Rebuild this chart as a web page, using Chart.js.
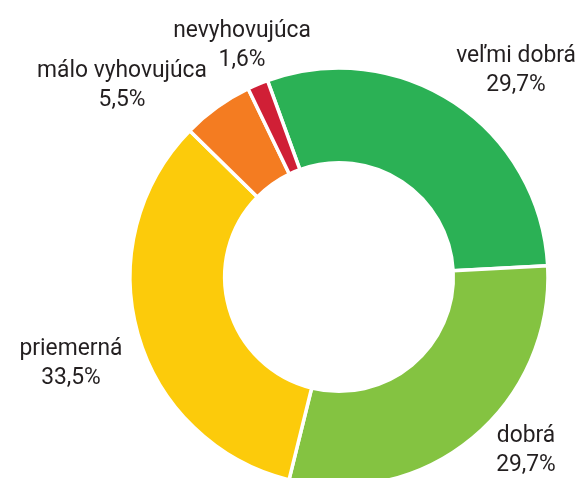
<!DOCTYPE html>
<html>
<head>
<meta charset="utf-8">
<script src="https://cdn.jsdelivr.net/npm/chart.js@4/dist/chart.umd.min.js"></script>
<style>
  html, body { margin: 0; padding: 0; background: #fff; overflow: hidden; }
  #wrap { width: 582px; height: 478px; overflow: hidden; }
  canvas { display: block; }
</style>
</head>
<body>
<div id="wrap"><canvas id="chart" width="582" height="554"></canvas></div>
<script>
'use strict';
// ── Data ──────────────────────────────────────────────────────────────────
const LABELS  = ['veľmi dobrá', 'dobrá', 'priemerná', 'málo vyhovujúca', 'nevyhovujúca'];
const VALUES  = [29.7, 29.7, 33.5, 5.5, 1.6];
const COLORS  = ['#2bb155', '#84c341', '#fccb0b', '#f47c21', '#d01f36'];

// label anchor relative to the doughnut centre: [x of text centre, baseline of first line]
const LABEL_OFFSETS = [[177, -215], [187, 165], [-268, 78], [-217, -200], [-97, -240]];
const LINE_GAP = 29;
const SQUEEZE = 0.95;   // narrow the glyphs a little, the original uses a condensed face

const fmtPct = v => v.toFixed(1).replace('.', ',') + '%';

// ── Outside labels ────────────────────────────────────────────────────────
const outsideLabels = {
    id: 'outsideLabels',
    afterDatasetsDraw(chart) {
        const ctx = chart.ctx;
        const meta = chart.getDatasetMeta(0);
        ctx.save();
        ctx.font = "24px Roboto, 'Noto Sans', sans-serif";
        ctx.fillStyle = '#231f20';
        ctx.textAlign = 'center';
        ctx.textBaseline = 'alphabetic';
        meta.data.forEach((arc, i) => {
            const [dx, dy] = LABEL_OFFSETS[i];
            const x = arc.x + dx, y = arc.y + dy;
            ctx.save();
            ctx.translate(x, y);
            ctx.scale(SQUEEZE, 1);
            ctx.fillText(chart.data.labels[i], 0, 0);
            ctx.fillText(fmtPct(chart.data.datasets[0].data[i]), 0, LINE_GAP);
            ctx.restore();
        });
        ctx.restore();
    }
};

new Chart(document.getElementById('chart'), {
    type: 'doughnut',
    data: {
        labels: LABELS,
        datasets: [{
            data: VALUES,
            backgroundColor: COLORS,
            borderColor: '#ffffff',
            borderWidth: 3.5,
        }]
    },
    options: {
        responsive: false,
        animation: false,
        rotation: -20,
        radius: 209,
        cutout: '54.7%',
        layout: { padding: { left: 96 } },
        plugins: {
            legend: { display: false },
            tooltip: { enabled: false }
        }
    },
    plugins: [outsideLabels]
});
</script>
</body>
</html>
